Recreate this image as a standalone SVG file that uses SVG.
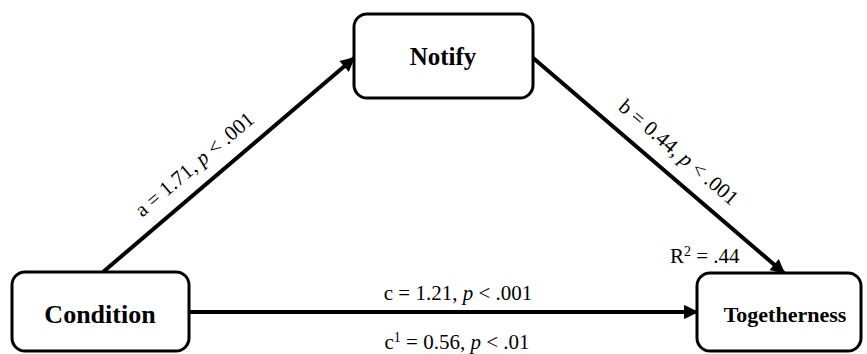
<svg xmlns="http://www.w3.org/2000/svg" width="867" height="354" viewBox="0 0 867 354">
<style>
.box{fill:#fff;stroke:#000;stroke-width:3}
.lbl{font-family:"Liberation Serif","Times New Roman",serif;font-weight:bold;fill:#000;text-anchor:middle}
.edge{stroke:#000;stroke-width:4;fill:none}
.el{font-family:"Liberation Serif","Times New Roman",serif;font-size:21px;fill:#000}
.it{font-style:italic}
</style>
<defs>
<marker id="ah" viewBox="0 0 10 10" refX="9" refY="5" markerWidth="3.8" markerHeight="3.6" orient="auto" markerUnits="strokeWidth">
<path d="M0,0 L10,5 L0,10 Z" fill="#000"/>
</marker>
</defs>
<g id="connectors">
<line class="edge" x1="103" y1="272" x2="354" y2="58" marker-end="url(#ah)"/>
<line class="edge" x1="532" y1="57" x2="784" y2="273" marker-end="url(#ah)"/>
<line class="edge" x1="189" y1="312" x2="697" y2="312" marker-end="url(#ah)"/>
<text class="el" text-anchor="middle" transform="translate(195,165) rotate(-40.4)" y="6">a = 1.71, <tspan class="it">p</tspan> &lt; .001</text>
<text class="el" text-anchor="middle" transform="translate(678,153) rotate(40.6)" y="6">b = 0.44, <tspan class="it">p</tspan> &lt; .001</text>
<text class="el" x="670" y="263">R<tspan font-size="14" dy="-7">2</tspan><tspan dy="7"> = .44</tspan></text>
<text class="el" text-anchor="middle" x="458" y="300">c = 1.21, <tspan class="it">p</tspan> &lt; .001</text>
<text class="el" text-anchor="middle" x="457" y="349">c<tspan font-size="14" dy="-7">1</tspan><tspan dy="7"> = 0.56, </tspan><tspan class="it">p</tspan> &lt; .01</text>
</g>
<g id="notify">
<rect class="box" x="354" y="14" width="179" height="84" rx="13"/>
<text class="lbl" x="443" y="65" font-size="25">Notify</text>
</g>
<g id="condition">
<rect class="box" x="12" y="272" width="177" height="79" rx="13"/>
<text class="lbl" x="100" y="323" font-size="26">Condition</text>
</g>
<g id="togetherness">
<rect class="box" x="697" y="273" width="164" height="78" rx="13"/>
<text class="lbl" x="785" y="322" font-size="22">Togetherness</text>
</g>
</svg>
